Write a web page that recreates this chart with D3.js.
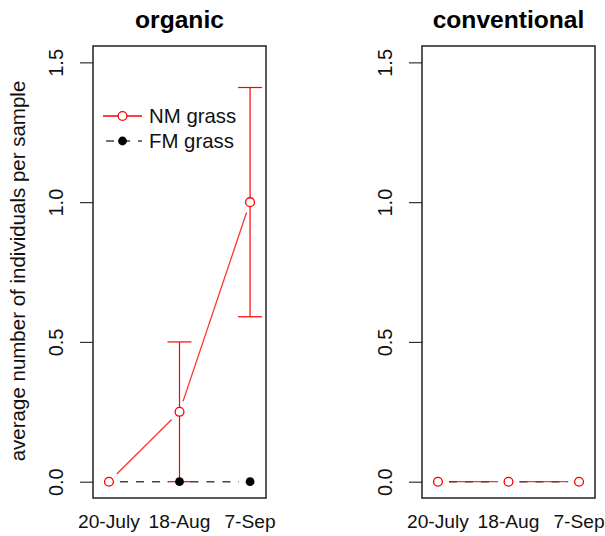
<!DOCTYPE html>
<html>
<head>
<meta charset="utf-8">
<script src="https://cdn.jsdelivr.net/npm/d3@7"></script>
<style>
  body { margin: 0; background: #fff; }
  text { font-family: "Liberation Sans", Arial, sans-serif; }
</style>
</head>
<body>
<div id="viz"></div>
<script>
// sample dates and tick labels
var dates = ["20-July", "18-Aug", "7-Sep"];
var yTicks = [0, 0.5, 1.0, 1.5];

// organic
var orgNM = [0, 0.25, 1.0];
var orgNMlo = [null, 0, 0.59];
var orgNMhi = [null, 0.5, 1.41];
var orgFM = [0, 0, 0];

// conventional
var convNM = [0, 0, 0];
var convFM = [0, 0, 0];

var panels = [
  {title: "organic", x0: 93, x1: 266, nm: orgNM, lo: orgNMlo, hi: orgNMhi, fm: orgFM, legend: true},
  {title: "conventional", x0: 422, x1: 595, nm: convNM, lo: [null, null, null], hi: [null, null, null], fm: convFM, legend: false}
];

var svg = d3.select("#viz").append("svg")
    .attr("width", 605)
    .attr("height", 536);

var y = d3.scaleLinear().domain([-0.0583, 1.5585]).range([498, 46]);

// line with gaps round the points, like R type="b"
function gapLines(g, xs, vals, gap) {
  for (var i = 0; i < vals.length - 1; i++) {
    var ax = xs(i + 1), ay = y(vals[i]), bx = xs(i + 2), by = y(vals[i + 1]);
    var dx = bx - ax, dy = by - ay, len = Math.sqrt(dx * dx + dy * dy);
    if (len <= 2 * gap) continue;
    var ux = dx / len, uy = dy / len;
    g.push([ax + ux * gap, ay + uy * gap, bx - ux * gap, by - uy * gap]);
  }
  return g;
}

panels.forEach(function(p) {
  var x = d3.scaleLinear().domain([0.774, 3.226]).range([p.x0, p.x1]);
  var g = svg.append("g");

  // y axis
  var ax = g.append("g")
      .attr("transform", "translate(" + p.x0 + ",0)")
      .call(d3.axisLeft(y).tickValues(yTicks).tickSize(13).tickFormat(d3.format(".1f")));
  ax.select(".domain").remove();
  ax.selectAll(".tick line").attr("stroke", "#333").attr("stroke-width", 1.2);
  ax.selectAll(".tick text")
      .attr("font-size", 20)
      .attr("fill", "#111")
      .attr("x", null).attr("dy", null)
      .attr("text-anchor", "middle")
      .attr("transform", "translate(-30,0) rotate(-90)");

  // x labels (no tick marks)
  g.selectAll(".xl").data(dates).enter().append("text")
      .attr("x", function(d, i) { return x(i + 1); })
      .attr("y", 528)
      .attr("text-anchor", "middle")
      .attr("font-size", 19.2)
      .attr("fill", "#111")
      .text(function(d) { return d; });

  // title
  g.append("text")
      .attr("x", (p.x0 + p.x1) / 2)
      .attr("y", 28)
      .attr("text-anchor", "middle")
      .attr("font-size", 24.6)
      .attr("font-weight", "bold")
      .text(p.title);

  // error bars
  p.lo.forEach(function(lo, i) {
    if (lo === null) return;
    var cx = x(i + 1);
    g.append("line").attr("x1", cx).attr("x2", cx).attr("y1", y(lo)).attr("y2", y(p.hi[i]))
        .attr("stroke", "red").attr("stroke-width", 1.2);
    [lo, p.hi[i]].forEach(function(v) {
      g.append("line").attr("x1", cx - 12).attr("x2", cx + 12).attr("y1", y(v)).attr("y2", y(v))
          .attr("stroke", "red").attr("stroke-width", 1.2);
    });
  });

  // FM grass: black dashed, filled points
  g.selectAll(".fml").data(gapLines([], x, p.fm, 11)).enter().append("line")
      .attr("x1", function(d) { return d[0]; }).attr("y1", function(d) { return d[1]; })
      .attr("x2", function(d) { return d[2]; }).attr("y2", function(d) { return d[3]; })
      .attr("stroke", "#444").attr("stroke-width", 1.6).attr("stroke-dasharray", "8,8");
  g.selectAll(".fmp").data(p.fm).enter().append("circle")
      .attr("cx", function(d, i) { return x(i + 1); })
      .attr("cy", function(d) { return y(d); })
      .attr("r", 4.4).attr("fill", "black");

  // NM grass: red solid, open points
  g.selectAll(".nml").data(gapLines([], x, p.nm, 11)).enter().append("line")
      .attr("x1", function(d) { return d[0]; }).attr("y1", function(d) { return d[1]; })
      .attr("x2", function(d) { return d[2]; }).attr("y2", function(d) { return d[3]; })
      .attr("stroke", "red").attr("stroke-width", 1.3).attr("stroke-opacity", 0.8);
  g.selectAll(".nmp").data(p.nm).enter().append("circle")
      .attr("cx", function(d, i) { return x(i + 1); })
      .attr("cy", function(d) { return y(d); })
      .attr("r", 4.4).attr("fill", "white").attr("stroke", "red").attr("stroke-width", 1.3);

  // box
  g.append("rect")
      .attr("x", p.x0).attr("y", 46)
      .attr("width", p.x1 - p.x0).attr("height", 452)
      .attr("fill", "none").attr("stroke", "#222").attr("stroke-width", 1.5);

  if (p.legend) {
    var lg = g.append("g");
    lg.append("line").attr("x1", 103).attr("x2", 142).attr("y1", 116).attr("y2", 116)
        .attr("stroke", "red").attr("stroke-width", 1.3);
    lg.append("circle").attr("cx", 122.5).attr("cy", 116).attr("r", 4.4)
        .attr("fill", "white").attr("stroke", "red").attr("stroke-width", 1.3);
    lg.append("line").attr("x1", 103).attr("x2", 142).attr("y1", 141).attr("y2", 141)
        .attr("stroke", "#444").attr("stroke-width", 1.6).attr("stroke-dasharray", "8,8")
        .attr("stroke-dashoffset", -3);
    lg.append("circle").attr("cx", 122.5).attr("cy", 141).attr("r", 4.4).attr("fill", "black");
    lg.append("text").attr("x", 149).attr("y", 123).attr("font-size", 20.4).attr("fill", "#111").text("NM grass");
    lg.append("text").attr("x", 149).attr("y", 148).attr("font-size", 20.4).attr("fill", "#111").text("FM grass");
  }
});

// y axis title
svg.append("text")
    .attr("transform", "translate(25,271) rotate(-90)")
    .attr("text-anchor", "middle")
    .attr("font-size", 20.5)
    .attr("fill", "#111")
    .text("average number of individuals per sample");
</script>
</body>
</html>
